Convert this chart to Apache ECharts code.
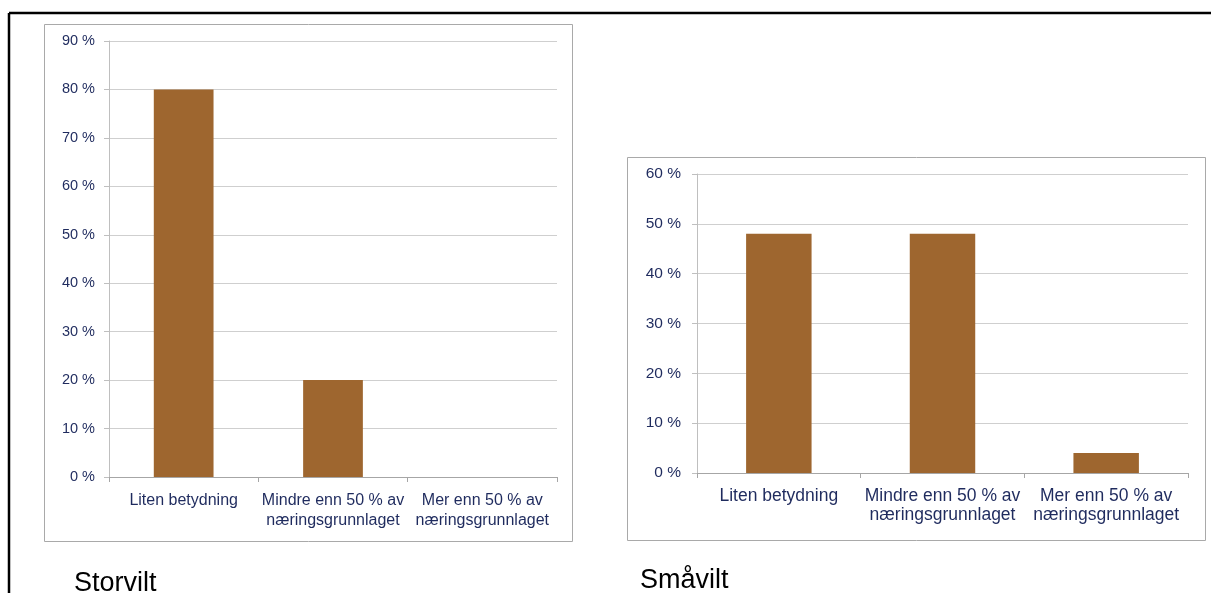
<!DOCTYPE html>
<html>
<head>
<meta charset="utf-8">
<script src="https://cdn.jsdelivr.net/npm/echarts@6/dist/echarts.min.js"></script>
<style>
  html, body { margin: 0; padding: 0; background: #ffffff; }
  #chart { width: 1211px; height: 593px; }
</style>
</head>
<body>
<div id="chart"></div>
<script>
// Categories shared by both panels
const categories = [
  'Liten betydning',
  'Mindre enn 50 % av\nnæringsgrunnlaget',
  'Mer enn 50 % av\nnæringsgrunnlaget'
];
// Share of answers (%) per category
const storviltValues = [80, 20, 0];
const smaviltValues = [48, 48, 4];
// Panel titles
const panelTitles = ['Storvilt', 'Småvilt'];

const barColor = '#9E662F';
const textColor = '#1F2B5E';
const fontFamily = '"Liberation Sans", Arial, sans-serif';

function yAxisFor(gridIndex, max, fontSize, margin) {
  return {
    type: 'value', gridIndex, min: 0, max, interval: 10,
    axisLabel: { formatter: v => v + ' %', color: textColor, fontSize, fontFamily, margin },
    axisLine: { show: true, lineStyle: { color: '#BFBFBF', width: 1 } },
    axisTick: { show: true, length: 5, lineStyle: { color: '#BFBFBF' } },
    splitLine: { show: true, lineStyle: { color: '#CFCFCF', width: 1 } }
  };
}

function xAxisFor(gridIndex, fontSize, lineHeight, margin) {
  return {
    type: 'category', gridIndex, data: categories, boundaryGap: true,
    axisLabel: { color: textColor, fontSize, fontFamily, lineHeight, margin, interval: 0 },
    axisLine: { show: true, lineStyle: { color: '#A6A6A6', width: 1 } },
    axisTick: { show: true, length: 5, alignWithLabel: false, lineStyle: { color: '#A6A6A6' } }
  };
}

const chart = echarts.init(document.getElementById('chart'), null, { renderer: 'canvas' });

chart.setOption({
  backgroundColor: '#ffffff',
  animation: false,
  title: [
    { text: panelTitles[0], left: 69, top: 565, textStyle: { fontSize: 27, fontWeight: 'normal', color: '#000', fontFamily } },
    { text: panelTitles[1], left: 635, top: 562, textStyle: { fontSize: 27, fontWeight: 'normal', color: '#000', fontFamily } }
  ],
  graphic: [
    // outer frame (top and left edges)
    { type: 'line', shape: { x1: 9, y1: 13, x2: 1211, y2: 13 }, style: { stroke: '#000', lineWidth: 2.5 }, z: 10 },
    { type: 'line', shape: { x1: 9, y1: 13, x2: 9, y2: 593 }, style: { stroke: '#000', lineWidth: 2.5 }, z: 10 },
    // chart area frames
    { type: 'rect', shape: { x: 44.5, y: 24.5, width: 528, height: 517 }, style: { fill: 'none', stroke: '#A9A9A9', lineWidth: 1 }, z: 0 },
    { type: 'rect', shape: { x: 627.5, y: 157.5, width: 578, height: 383 }, style: { fill: 'none', stroke: '#A9A9A9', lineWidth: 1 }, z: 0 }
  ],
  grid: [
    { left: 109, top: 41, width: 448, height: 436 },
    { left: 697, top: 174, width: 491, height: 299 }
  ],
  xAxis: [
    xAxisFor(0, 16, 20, 14),
    xAxisFor(1, 17.5, 19, 14)
  ],
  yAxis: [
    yAxisFor(0, 90, 14.5, 14),
    yAxisFor(1, 60, 15.5, 16)
  ],
  series: [
    { type: 'bar', xAxisIndex: 0, yAxisIndex: 0, data: storviltValues, barWidth: '40%', itemStyle: { color: barColor } },
    { type: 'bar', xAxisIndex: 1, yAxisIndex: 1, data: smaviltValues, barWidth: '40%', itemStyle: { color: barColor } }
  ]
});
</script>
</body>
</html>
